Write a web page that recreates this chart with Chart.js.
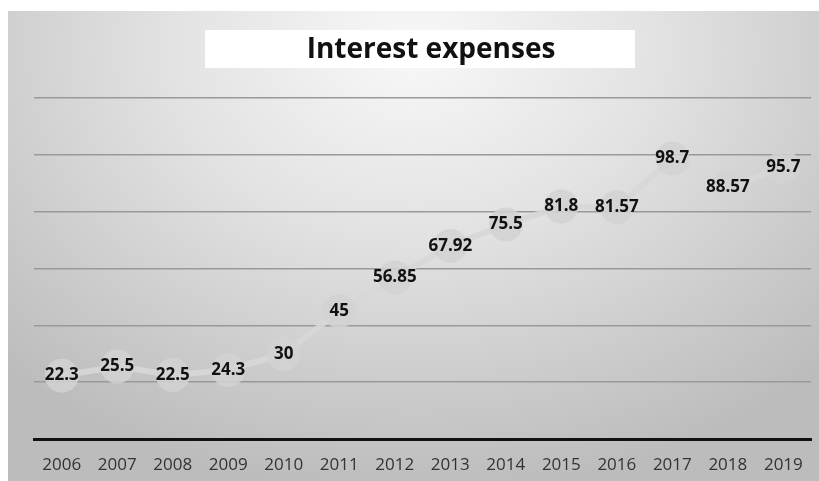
<!DOCTYPE html>
<html>
<head>
<meta charset="utf-8">
<script src="https://cdn.jsdelivr.net/npm/chart.js@4"></script>
<style>
    html, body { margin: 0; padding: 0; background: #fff; }
    #wrap { position: relative; width: 819px; height: 481px; }
    #bg {
        position: absolute; left: 8px; top: 11px; width: 811px; height: 470px;
        background: radial-gradient(ellipse 72% 95% at 50% 8%, #f8f8f8 0%, #e2e2e2 42%, #cacaca 78%, #bcbcbc 100%);
    }
    #chart { position: absolute; left: 0; top: 0; }
</style>
</head>
<body>
<div id="wrap">
    <div id="bg"></div>
    <canvas id="chart" width="819" height="481"></canvas>
</div>
<script>
const years = ['2006', '2007', '2008', '2009', '2010', '2011', '2012', '2013', '2014', '2015', '2016', '2017', '2018', '2019'];
const interest = [22.3, 25.5, 22.5, 24.3, 30, 45, 56.85, 67.92, 75.5, 81.8, 81.57, 98.7, 88.57, 95.7];
const chartTitle = 'Interest expenses';

// white box with the title
const titleBox = {
    id: 'titleBox',
    afterDraw(chart) {
        const ctx = chart.ctx;
        ctx.save();
        ctx.fillStyle = '#ffffff';
        ctx.fillRect(205, 30, 430, 38);
        ctx.fillStyle = '#111';
        ctx.font = 'bold 28px "Open Sans", sans-serif';
        ctx.textAlign = 'center';
        ctx.textBaseline = 'middle';
        ctx.fillText(chartTitle, 431, 50);
        ctx.restore();
    }
};

// value labels on top of each marker
const valueLabels = {
    id: 'valueLabels',
    afterDatasetsDraw(chart) {
        const ctx = chart.ctx;
        const meta = chart.getDatasetMeta(0);
        ctx.save();
        ctx.fillStyle = '#111';
        ctx.font = 'bold 17px "Open Sans", sans-serif';
        ctx.textAlign = 'center';
        ctx.textBaseline = 'middle';
        meta.data.forEach((pt, i) => {
            ctx.fillText(String(interest[i]), pt.x, pt.y);
        });
        ctx.restore();
    }
};

new Chart(document.getElementById('chart'), {
    type: 'line',
    data: {
        labels: years,
        datasets: [{
            data: interest,
            borderColor: 'rgba(215,215,215,0.9)',
            borderWidth: 6,
            pointRadius: 17,
            pointBackgroundColor: 'rgba(210,210,210,0.85)',
            pointBorderWidth: 0,
            tension: 0
        }]
    },
    options: {
        responsive: false,
        animation: false,
        layout: { autoPadding: false, padding: { left: 34, right: 6, top: 98, bottom: 6 } },
        plugins: { legend: { display: false }, title: { display: false }, tooltip: { enabled: false } },
        scales: {
            x: {
                offset: true,
                grid: { display: false, drawTicks: false },
                border: { display: true, color: '#111', width: 3 },
                ticks: { color: '#333', font: { size: 17, family: '"Open Sans", sans-serif' }, padding: 16 },
                afterFit(scale) { scale.height = 36; }
            },
            y: {
                min: 0, max: 120,
                ticks: { display: false, stepSize: 20 },
                grid: { color: '#999', lineWidth: 1.5, drawTicks: false },
                border: { display: false },
                afterFit(scale) { scale.width = 0; }
            }
        }
    },
    plugins: [titleBox, valueLabels]
});
</script>
</body>
</html>
